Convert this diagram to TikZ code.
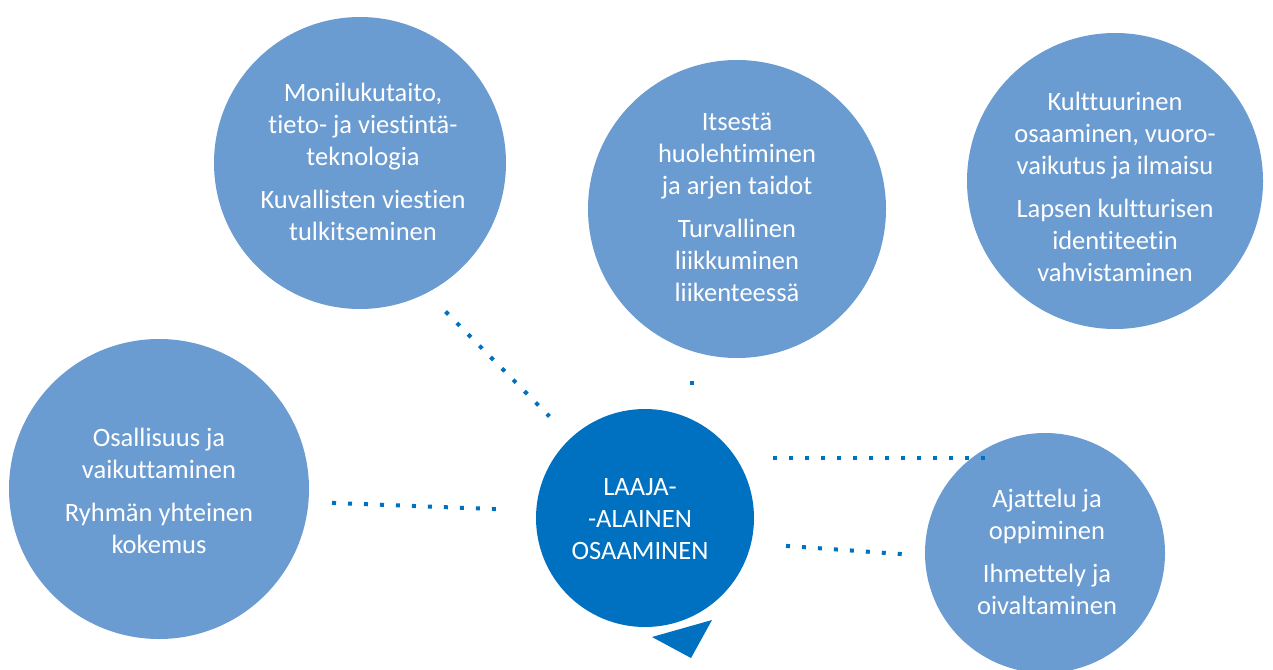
\documentclass[tikz,border=0pt]{standalone}
\usepackage{fontspec}
\setmainfont{Carlito}[Ligatures={NoCommon,NoRare,NoContextual}]
\definecolor{lightblue}{RGB}{106,155,209}
\definecolor{darkblue}{RGB}{0,112,192}
\begin{document}
\begin{tikzpicture}[x=1pt,y=-1pt,
  bub/.style={circle, fill=lightblue, draw=none, inner sep=0pt},
  hub/.style={circle, fill=darkblue, draw=none, inner sep=0pt},
  txt/.style={text=white, align=center, inner sep=0pt, font=\fontsize{26.5}{32}\selectfont},
  dotline/.style={draw=darkblue, line width=4pt, line cap=butt, dash pattern=on 4pt off 12pt}]
\useasboundingbox (0,0) rectangle (1273,669);
% circles
\node[bub, minimum size=292pt] (c1) at (360,163) {};
\node[bub, minimum size=298pt] (c2) at (737,209) {};
\node[bub, minimum size=296pt] (c3) at (1115,181) {};
\node[bub, minimum size=300pt] (c4) at (159,489) {};
\node[bub, minimum size=240pt] (c6) at (1045,553) {};
\node[hub, minimum size=218pt] (c5) at (645,518) {};
\coordinate (p1) at (652,637);
\coordinate (p2) at (712,620);
\coordinate (p3) at (691,658);
\fill[darkblue] (p1) -- (p2) -- (p3) -- cycle;
% texts
\node[txt] (t1) at (363,162) {Monilukutaito,\\tieto- ja viestintä-\\teknologia\\[11pt]Kuvallisten viestien\\tulkitseminen};
\node[txt] (t2) at (737,207.5) {Itsestä\\huolehtiminen\\ja arjen taidot\\[11pt]Turvallinen\\liikkuminen\\liikenteessä};
\node[txt] (t3) at (1115,186.5) {Kulttuurinen\\osaaminen, vuoro-\\vaikutus ja ilmaisu\\[11pt]Lapsen kultturisen\\identiteetin\\vahvistaminen};
\node[txt] (t4) at (159,491) {Osallisuus ja\\vaikuttaminen\\[11pt]Ryhmän yhteinen\\kokemus};
\node[txt] (t5) at (640,519.5) {LAAJA-\\-ALAINEN\\OSAAMINEN};
\node[txt] (t6) at (1047,552) {Ajattelu ja\\oppiminen\\[11pt]Ihmettely ja\\oivaltaminen};
% connector ends
\coordinate (a1) at (445.6,311.6);
\coordinate (a2) at (549.4,416.4);
\coordinate (b1) at (692,381);
\coordinate (b2) at (692,385);
\coordinate (e1) at (773,458);
\coordinate (e2) at (986,458);
\coordinate (d1) at (786,545.9);
\coordinate (d2) at (902,554.1);
\coordinate (f1) at (332,502.9);
\coordinate (f2) at (496,509.1);
\draw[dotline] (a1) -- (a2);
\draw[dotline] (b1) -- (b2);
\draw[dotline] (e1) -- (e2);
\draw[dotline] (d1) -- (d2);
\draw[dotline] (f1) -- (f2);
\end{tikzpicture}
\end{document}
